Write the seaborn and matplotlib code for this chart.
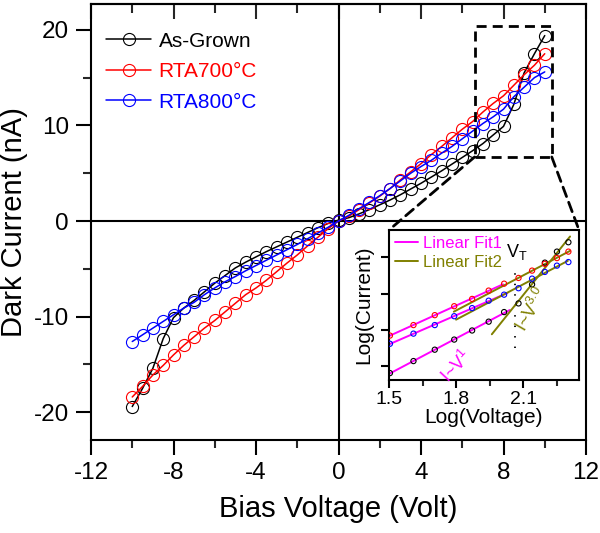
import numpy as np
import pandas as pd
import matplotlib
matplotlib.use("Agg")
import matplotlib.pyplot as plt
import seaborn as sns
from matplotlib.patches import Rectangle, ConnectionPatch
from matplotlib.ticker import MultipleLocator, FixedLocator, NullFormatter
from matplotlib.lines import Line2D

# ---------------- data ----------------
voltage = [-10.0, -9.5, -9.0, -8.5, -8.0, -7.5, -7.0, -6.5, -6.0, -5.5, -5.0,
           -4.5, -4.0, -3.5, -3.0, -2.5, -2.0, -1.5, -1.0, -0.5, 0.0,
           0.5, 1.0, 1.5, 2.0, 2.5, 3.0, 3.5, 4.0, 4.5, 5.0,
           5.5, 6.0, 6.5, 7.0, 7.5, 8.0, 8.5, 9.0, 9.5, 10.0]

as_grown = [-19.4, -17.5, -15.4, -12.3, -10.1, -9.1, -8.3, -7.4, -6.5, -5.7, -4.9,
            -4.3, -3.75, -3.2, -2.7, -2.2, -1.7, -1.2, -0.7, -0.25, 0.1,
            0.35, 0.75, 1.2, 1.7, 2.2, 2.75, 3.35, 3.95, 4.6, 5.25,
            5.95, 6.65, 7.35, 8.1, 9.0, 9.9, 12.2, 15.5, 17.5, 19.4]

rta700 = [-18.4, -17.3, -16.1, -15.1, -14.0, -13.0, -12.1, -11.2, -10.4, -9.5, -8.6,
          -7.7, -7.0, -6.2, -5.3, -4.4, -3.55, -2.6, -1.7, -0.8, 0.0,
          0.5, 1.2, 1.9, 2.6, 3.4, 4.3, 5.15, 6.0, 6.95, 7.8,
          8.7, 9.6, 10.4, 11.4, 12.3, 13.1, 14.2, 15.3, 16.3, 17.5]

rta800 = [-12.6, -11.9, -11.2, -10.5, -9.8, -9.1, -8.5, -7.7, -7.0, -6.35, -5.8,
          -5.2, -4.65, -4.1, -3.55, -3.0, -2.45, -1.85, -1.25, -0.65, 0.0,
          0.6, 1.3, 1.95, 2.65, 3.4, 4.2, 5.0, 5.7, 6.35, 7.1,
          7.8, 8.6, 9.4, 10.2, 10.9, 11.7, 13.0, 14.0, 15.0, 15.6]

series_names = ["As-Grown", "RTA700\u00b0C", "RTA800\u00b0C"]
series_values = [as_grown, rta700, rta800]
series_colors = ["black", "#ff0000", "#0000ff"]

x_ticks = [-12, -8, -4, 0, 4, 8, 12]
y_ticks = [-20, -10, 0, 10, 20]

# inset: log-log of the forward-bias part
inset_v_min = 4.5
fit1_v_range = (4.5, 7.5)          # region of Linear Fit1
fit2_v_range = (8.0, 10.0)         # region of Linear Fit2
fit1_x_extent = [(1.45, 2.04), (1.45, 2.01), (1.45, 2.03)]
fit2_x_extent = [(1.96, 2.31), (1.79, 2.31), (1.80, 2.30)]
fit_labels = ["Linear Fit1", "Linear Fit2"]
fit_colors = ["#ff00ff", "#808000"]
inset_x_ticks = [1.5, 1.8, 2.1]
inset_y_ticks = [1.6, 2.0, 2.4, 2.8]
log_vt = 2.064
zoom_box = (6.6, 10.34, 6.7, 20.4)   # V0, V1, I0, I1

# ---------------- style ----------------
sns.set_theme(style="ticks")
plt.rcParams["font.family"] = ["Liberation Sans", "DejaVu Sans"]
plt.rcParams["mathtext.default"] = "regular"
plt.rcParams["axes.unicode_minus"] = False
plt.rcParams["axes.linewidth"] = 1.5

fig = plt.figure(figsize=(6.0, 5.33), dpi=100)
ax = fig.add_axes([91/600, 1 - 440/533, 495/600, 436/533])

df = pd.DataFrame({
    "V": voltage * 3,
    "I": as_grown + rta700 + rta800,
    "Sample": sum([[n] * len(voltage) for n in series_names], []),
})

ax.axhline(0, color="black", lw=1.5, zorder=1)
ax.axvline(0, color="black", lw=1.5, zorder=1)

for name, col in zip(series_names, series_colors):
    sub = df[df["Sample"] == name]
    sns.lineplot(data=sub, x="V", y="I", ax=ax, color=col, lw=1.1,
                 marker="o", markersize=8.7, markerfacecolor="none",
                 markeredgecolor=col, markeredgewidth=0.8, label=name,
                 zorder=3)

ax.set_xlim(-12, 12)
ax.set_ylim(-22.9, 22.7)
ax.xaxis.set_major_locator(FixedLocator(x_ticks))
ax.xaxis.set_minor_locator(MultipleLocator(2))
ax.yaxis.set_major_locator(FixedLocator(y_ticks))
ax.yaxis.set_minor_locator(MultipleLocator(5))
ax.tick_params(which="major", direction="out", length=11, width=1.5,
               labelsize=17.5, top=False, right=False, pad=5, colors="black")
ax.tick_params(which="minor", direction="out", length=5.5, width=1.5,
               top=False, right=False)
for s in ax.spines.values():
    s.set_visible(True)
    s.set_linewidth(1.5)
    s.set_color("black")

sec = ax.secondary_xaxis("top")
sec.xaxis.set_major_locator(FixedLocator(x_ticks))
sec.xaxis.set_minor_locator(MultipleLocator(2))
sec.xaxis.set_major_formatter(NullFormatter())
sec.tick_params(which="major", direction="in", length=11, width=1.5)
sec.tick_params(which="minor", direction="in", length=6.5, width=1.5)
sec.spines["top"].set_linewidth(1.5)

ax.set_xlabel("Bias Voltage (Volt)", fontsize=21, labelpad=8, color="black")
ax.set_ylabel("Dark Current (nA)", fontsize=21, color="black")
ax.yaxis.set_label_coords(-0.128, 0.5)

leg = ax.legend(loc="upper left", bbox_to_anchor=(0.0, 0.97), frameon=False,
                fontsize=15, handlelength=2.2, handletextpad=0.35,
                labelspacing=0.55, borderaxespad=0.3, labelcolor="linecolor")

# dashed zoom box
v0, v1, i0, i1 = zoom_box
ax.add_patch(Rectangle((v0, i0), v1 - v0, i1 - i0, fill=False, ec="black",
                       lw=2.0, linestyle=(0, (3.6, 2.2)), zorder=4))

# ---------------- inset ----------------
axins = fig.add_axes([389/600, 1 - 380/533, 190/600, 150/533])
axins.set_facecolor("white")

v_arr = np.array(voltage)
mask = v_arr >= inset_v_min
lnv = np.log(v_arr[mask])
lo = (v_arr[mask] >= fit1_v_range[0]) & (v_arr[mask] <= fit1_v_range[1])
hi = (v_arr[mask] >= fit2_v_range[0]) & (v_arr[mask] <= fit2_v_range[1])

for k, (vals, col) in enumerate(zip(series_values, series_colors)):
    lni = np.log(np.array(vals)[mask])
    sns.scatterplot(x=lnv, y=lni, ax=axins, marker="o", s=14,
                    facecolors="none", edgecolor=col, linewidth=0.8, zorder=3)
    p1 = np.polyfit(lnv[lo], lni[lo], 1)
    xs1 = np.array(fit1_x_extent[k])
    sns.lineplot(x=xs1, y=np.polyval(p1, xs1), ax=axins, color=fit_colors[0],
                 lw=1.4, zorder=2, sort=False)
    p2 = np.polyfit(lnv[hi], lni[hi], 1)
    xs2 = np.array(fit2_x_extent[k])
    sns.lineplot(x=xs2, y=np.polyval(p2, xs2), ax=axins, color=fit_colors[1],
                 lw=1.4, zorder=2, sort=False)

axins.plot([log_vt, log_vt], [1.80, 2.69], color="black", lw=1.3,
           linestyle=(0, (0.8, 5)), zorder=1)
axins.text(log_vt + 0.008, 2.86, "V$_{T}$", fontsize=13, color="black",
           ha="center", va="center")
axins.text(1.80, 1.60, "I~V$^{1}$", fontsize=13, color=fit_colors[0],
           rotation=47, ha="center", va="center")
axins.text(2.14, 2.22, "I~V$^{3.0}$", fontsize=13, color=fit_colors[1],
           rotation=60, ha="center", va="center")

axins.set_xlim(1.5, 2.35)
axins.set_ylim(1.45, 3.1)
axins.xaxis.set_major_locator(FixedLocator(inset_x_ticks))
axins.xaxis.set_minor_locator(MultipleLocator(0.15))
axins.yaxis.set_major_locator(FixedLocator(inset_y_ticks))
axins.yaxis.set_major_formatter(NullFormatter())
axins.tick_params(which="major", direction="out", length=6, width=1.5,
                  labelsize=14, top=False, right=False, pad=2, colors="black")
axins.tick_params(which="minor", direction="out", length=4, width=1.5,
                  top=False, right=False)
for s in axins.spines.values():
    s.set_visible(True)
    s.set_linewidth(1.5)
    s.set_color("black")
axins.set_xlabel("Log(Voltage)", fontsize=15, labelpad=0, color="black")
axins.set_ylabel("Log(Current)", fontsize=15, labelpad=3, color="black")

fit_handles = [Line2D([], [], color=c, lw=1.4) for c in fit_colors]
axins.legend(fit_handles, fit_labels, loc="upper left", frameon=False,
             fontsize=12, handlelength=1.4, handletextpad=0.3,
             labelspacing=0.25, borderaxespad=0.1, borderpad=0.25,
             labelcolor=fit_colors)

# connectors from zoom box to inset
for xa, xb in [(v0, 0.0), (v1, 1.0)]:
    con = ConnectionPatch(xyA=(xa, i0), coordsA=ax.transData,
                          xyB=(xb, 1.0), coordsB=axins.transAxes,
                          color="black", lw=2.0, linestyle=(0, (3.6, 2.2)))
    fig.add_artist(con)

fig.savefig("out.png", dpi=100)
